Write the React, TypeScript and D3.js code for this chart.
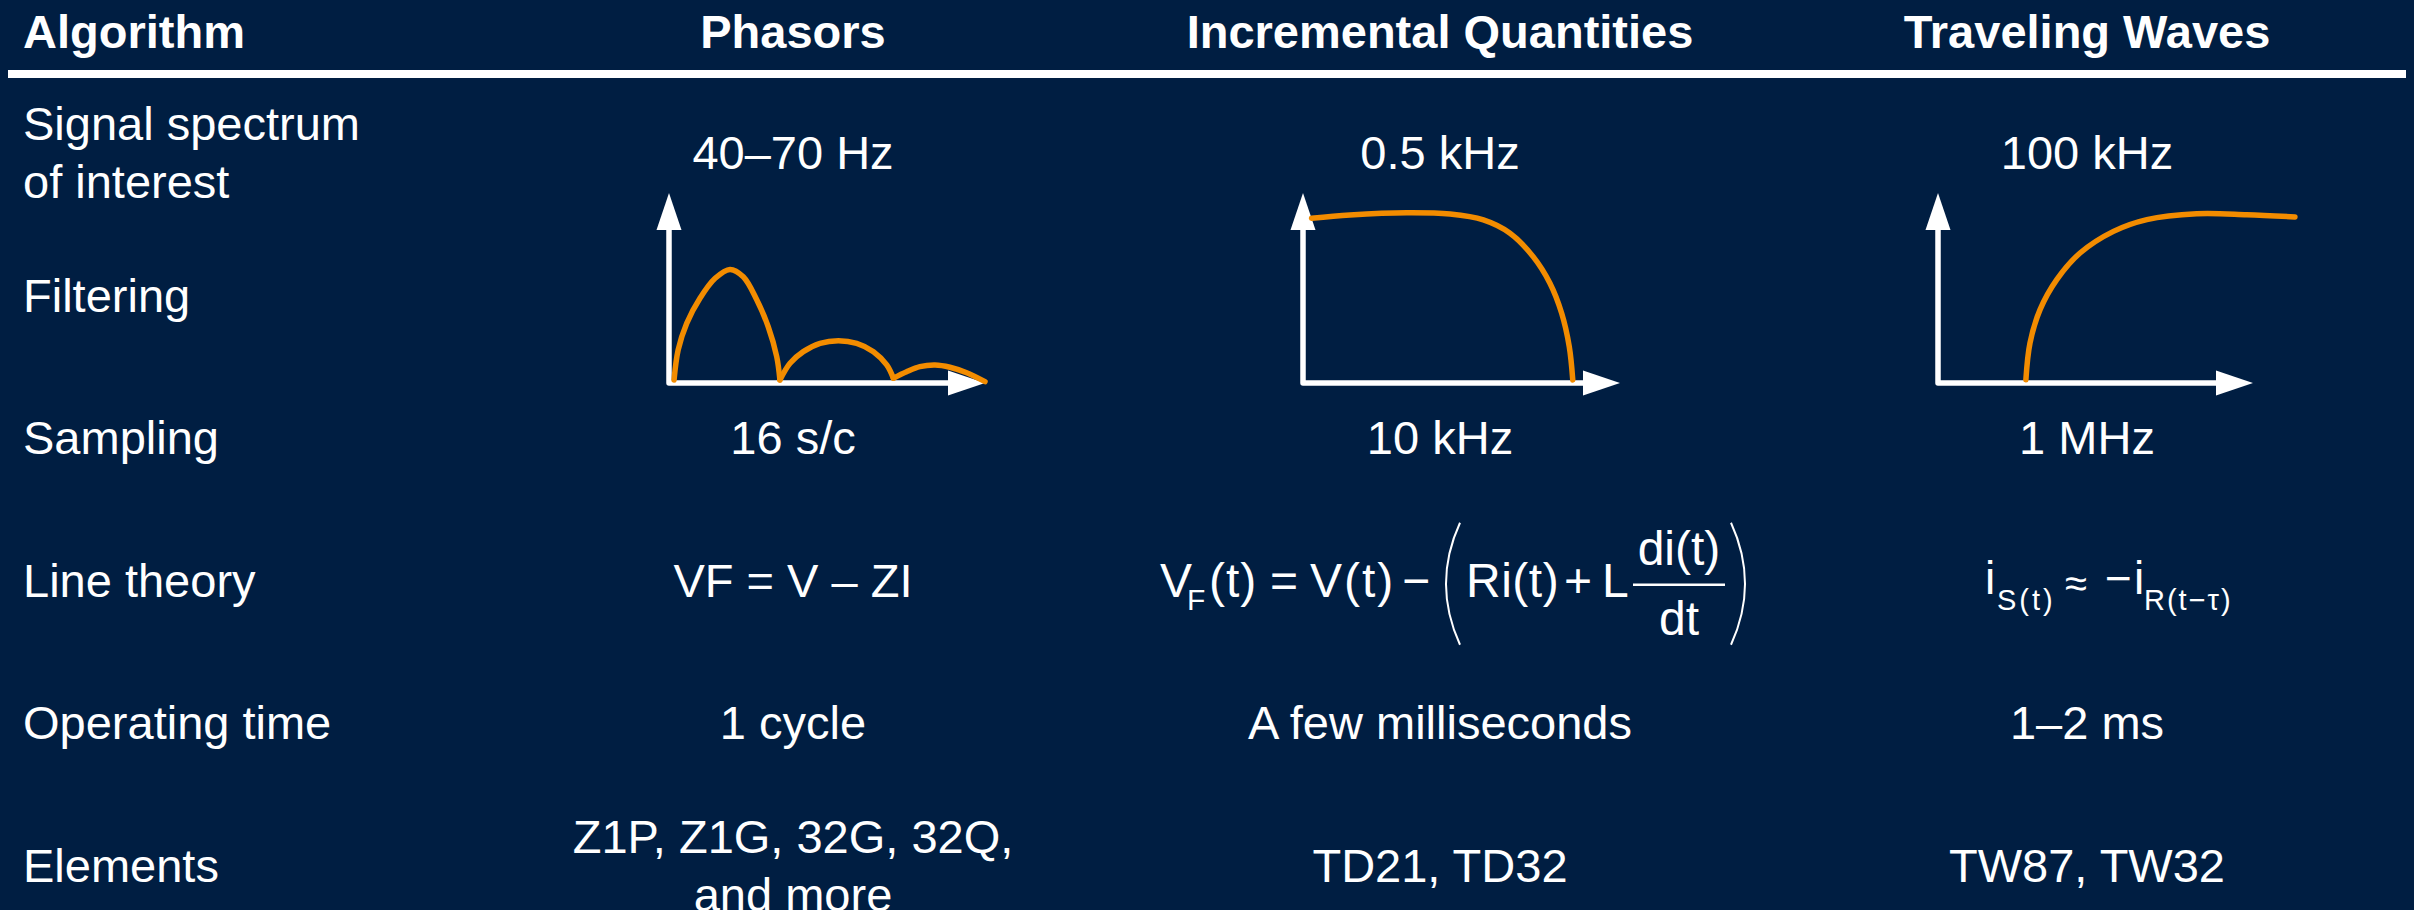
import React from "react";
import * as d3 from "d3";

// ---------- data ----------
const headers = ["Algorithm", "Phasors", "Incremental Quantities", "Traveling Waves"];

const rowLabels: string[][] = [
  ["Signal spectrum", "of interest"],
  ["Filtering"],
  ["Sampling"],
  ["Line theory"],
  ["Operating time"],
  ["Elements"],
];

const phasorValues: (string[] | null)[] = [
  ["40–70 Hz"], null, ["16 s/c"], ["VF = V – ZI"], ["1 cycle"], ["Z1P, Z1G, 32G, 32Q,", "and more"],
];
const incrementalValues: (string[] | null)[] = [
  ["0.5 kHz"], null, ["10 kHz"], null, ["A few milliseconds"], ["TD21, TD32"],
];
const travelingValues: (string[] | null)[] = [
  ["100 kHz"], null, ["1 MHz"], null, ["1–2 ms"], ["TW87, TW32"],
];

// filter response sketches (x: 0–100 along axis, y: 0–100 up the axis)
const phasorLobe1: [number, number][] = [
  [1.6, 1.6], [2.9, 17.4], [5.6, 31.4], [9.8, 44.6], [14.6, 55.1], [19.3, 59.8],
  [23.5, 55.9], [27.8, 43.7], [31.4, 29.6], [34.1, 13.8], [35.1, 1.6],
];
const phasorLobe2: [number, number][] = [
  [35.1, 1.6], [38.3, 10.4], [42.5, 16.5], [47.8, 20.9], [53.6, 22.3],
  [59.4, 20.9], [64.7, 16.5], [68.9, 9.5], [71.0, 2.5],
];
const phasorLobe3: [number, number][] = [
  [71.0, 2.5], [75.2, 5.9], [79.4, 8.6], [84.2, 9.5], [88.9, 8.3], [94.2, 5.4], [100, 0.7],
];
const incrementalCurve: [number, number][] = [
  [2.7, 86.7], [14.8, 88.4], [32.7, 89.6], [46.4, 88.9], [56.9, 85.8], [65.3, 78.8],
  [72.6, 66.5], [77.9, 52.5], [81.6, 36.7], [84.0, 19.1], [85.1, 1.6],
];
const travelingCurve: [number, number][] = [
  [27.9, 1.7], [29.2, 21.0], [32.4, 38.6], [37.7, 54.4], [45.1, 68.4], [55.7, 79.8],
  [66.3, 86.0], [82.1, 89.1], [98.0, 88.6], [113.3, 87.4],
];

// ---------- layout / style ----------
const W = 2414;
const H = 910;
const BG = "#001e42";
const ORANGE = "#f28c00";
const FONT = "'Liberation Sans', Arial, Helvetica, sans-serif";
const FS = 47;
const LINE_H = 58;

const graphs = [
  { col: 1, x0: 669, x1: 985, curves: [phasorLobe1, phasorLobe2, phasorLobe3] },
  { col: 2, x0: 1303, x1: 1620, curves: [incrementalCurve] },
  { col: 3, x0: 1938, x1: 2253, curves: [travelingCurve] },
];
const graphBottom = 383;
const graphTop = 193;
const ARROW_L = 37;
const ARROW_W = 25;

export default function App() {
  // vertical centre of each row's text block
  const rowY = d3.scaleLinear().domain([0, rowLabels.length - 1]).range([152, 865]);
  const colX = d3.scalePoint<string>().domain(headers.slice(1)).range([793, 2087]);
  const cx = (i: number) => colX(headers[i]) as number;
  const valueCols = [phasorValues, incrementalValues, travelingValues];

  const multi = (lines: string[], x: number, yc: number, anchor: string, key: string) =>
    lines.map((ln, k) => (
      <text
        key={key + k}
        x={x}
        y={yc + (k - (lines.length - 1) / 2) * LINE_H + FS * 0.36}
        textAnchor={anchor}
        fill="#fff"
        fontSize={FS}
        fontFamily={FONT}
      >
        {ln}
      </text>
    ));

  // formula: incremental quantities
  const fc = cx(2);
  const base = rowY(3) + FS * 0.36; // baseline of formula row
  const txt = (t: string, x: number, y: number, size: number, ls = 0, key = "") => (
    <text key={key || t + x} x={x} y={y} fill="#fff" fontSize={size} fontFamily={FONT} letterSpacing={ls}>
      {t}
    </text>
  );
  const parenPath = (xEdge: number, xBulge: number, yTop: number, yBot: number) =>
    `M${xEdge},${yTop} Q${xBulge},${(yTop + yBot) / 2} ${xEdge},${yBot}`;

  const tc = cx(3);

  return (
    <svg
      width={W}
      height={H}
      style={{ position: "absolute", left: 0, top: 0, background: BG }}
    >
      <rect x={0} y={0} width={W} height={H} fill={BG} />

      {/* header */}
      <text x={23} y={48} fill="#fff" fontSize={FS} fontWeight="bold" fontFamily={FONT}>
        {headers[0]}
      </text>
      {headers.slice(1).map((h, i) => (
        <text
          key={h}
          x={cx(i + 1)}
          y={48}
          textAnchor="middle"
          fill="#fff"
          fontSize={FS}
          fontWeight="bold"
          fontFamily={FONT}
        >
          {h}
        </text>
      ))}
      <rect x={8} y={70} width={2398} height={8} fill="#fff" />

      {/* row labels */}
      {rowLabels.map((lab, r) => multi(lab, 23, rowY(r), "start", "lab" + r))}

      {/* values */}
      {valueCols.map((vals, c) =>
        vals.map((v, r) => (v ? multi(v, cx(c + 1), rowY(r), "middle", `v${c}-${r}`) : null))
      )}

      {/* graphs */}
      {graphs.map((g, gi) => {
        const x = d3.scaleLinear().domain([0, 100]).range([g.x0, g.x1]);
        const y = d3.scaleLinear().domain([0, 100]).range([graphBottom, graphTop]);
        const line = d3
          .line<[number, number]>()
          .x((d) => x(d[0]))
          .y((d) => y(d[1]))
          .curve(d3.curveCatmullRom.alpha(0.5));
        return (
          <g key={"g" + gi}>
            <path
              d={`M${g.x0},${graphTop + ARROW_L - 2} L${g.x0},${graphBottom} L${g.x1 - ARROW_L + 2},${graphBottom}`}
              fill="none"
              stroke="#fff"
              strokeWidth={5.5}
              strokeLinejoin="round"
              strokeLinecap="round"
            />
            <path
              d={`M${g.x0},${graphTop} L${g.x0 - ARROW_W / 2},${graphTop + ARROW_L} L${g.x0 + ARROW_W / 2},${graphTop + ARROW_L} Z`}
              fill="#fff"
            />
            <path
              d={`M${g.x1},${graphBottom} L${g.x1 - ARROW_L},${graphBottom - ARROW_W / 2} L${g.x1 - ARROW_L},${graphBottom + ARROW_W / 2} Z`}
              fill="#fff"
            />
            {g.curves.map((c, ci) => (
              <path
                key={ci}
                d={line(c) || ""}
                fill="none"
                stroke={ORANGE}
                strokeWidth={5.5}
                strokeLinecap="round"
                strokeLinejoin="round"
              />
            ))}
          </g>
        );
      })}

      {/* incremental quantities formula */}
      <g>
        {txt("V", fc - 280, base, 48)}
        {txt("F", fc - 253, base + 13, 30)}
        {txt("(t)", fc - 231, base, 48, 1)}
        {txt("=", fc - 170, base, 48)}
        {txt("V(t)", fc - 130, base, 48, 2)}
        {txt("−", fc - 38, base, 48)}
        {txt("Ri(t)", fc + 26, base, 48, 0.5)}
        {txt("+", fc + 124, base, 48)}
        {txt("L", fc + 162, base, 48)}
        <text x={fc + 239} y={base - 32} textAnchor="middle" fill="#fff" fontSize={48} fontFamily={FONT}>
          di(t)
        </text>
        <line x1={fc + 193} x2={fc + 285} y1={base - 12} y2={base - 12} stroke="#fff" strokeWidth={2.5} />
        <text x={fc + 239} y={base + 38} textAnchor="middle" fill="#fff" fontSize={48} fontFamily={FONT}>
          dt
        </text>
        <path d={parenPath(fc + 20, fc - 8, base - 74, base + 48)} fill="none" stroke="#fff" strokeWidth={2} />
        <path d={parenPath(fc + 291, fc + 319, base - 74, base + 48)} fill="none" stroke="#fff" strokeWidth={2} />
      </g>

      {/* traveling waves formula */}
      <g>
        {txt("i", tc - 102, base - 3, 46, 0, "i1")}
        {txt("S(t)", tc - 90, base + 13, 29, 3)}
        {txt("≈", tc - 22, base, 40)}
        {txt("−", tc + 18, base - 3, 46)}
        {txt("i", tc + 47, base - 3, 46, 0, "i2")}
        {txt("R(t−τ)", tc + 57, base + 13, 29, 2)}
      </g>
    </svg>
  );
}
